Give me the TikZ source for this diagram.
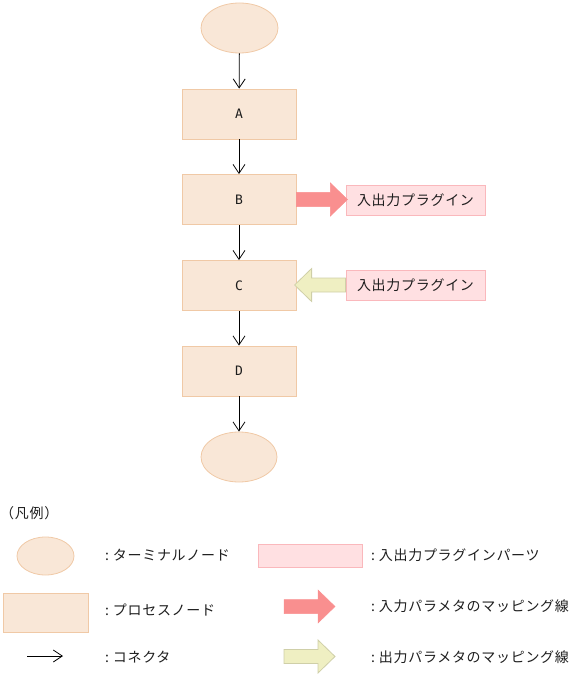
\documentclass[tikz,border=0pt]{standalone}
\usepackage{fontspec}
\setmainfont[LetterSpace=5]{Noto Sans CJK JP}
\newfontfamily\letterfont{DejaVu Sans Mono}
\usetikzlibrary{arrows.meta,shapes.geometric,calc}
\definecolor{peachfill}{HTML}{F9E7D7}
\definecolor{peachdraw}{HTML}{F0C9A6}
\definecolor{pinkfill}{HTML}{FFE0E2}
\definecolor{pinkdraw}{HTML}{FAB8BC}
\definecolor{redarr}{HTML}{F98F8F}
\definecolor{yelfill}{HTML}{EFEFC2}
\definecolor{yeldraw}{HTML}{CFCFA8}
\definecolor{txt}{HTML}{1E1E1E}
\tikzset{
  jp/.style={font=\fontsize{14}{16}\selectfont, text=txt, inner sep=0pt},
  terminal/.style={ellipse, draw=peachdraw, fill=peachfill, line width=0.8pt, inner sep=0pt},
  process/.style={rectangle, draw=peachdraw, fill=peachfill, line width=0.8pt, minimum width=114pt, minimum height=50pt, inner sep=0pt, font=\letterfont\fontsize{13}{15}\selectfont, text=txt},
  plugin/.style={rectangle, draw=pinkdraw, fill=pinkfill, line width=0.8pt, minimum width=139pt, minimum height=30pt, inner sep=0pt, font=\fontsize{14}{16}\selectfont, text=txt},
  conn/.style={draw=black, line width=0.8pt, -{Straight Barb[length=9pt,width=12pt,line width=0.8pt]}},
  redarrow/.style={fill=redarr, draw=redarr, line width=0.5pt},
  yelarrow/.style={fill=yelfill, draw=yeldraw, line width=0.8pt},
  fatarrow/.pic={\path[pic actions] (0,-7) -- (34,-7) -- (34,-16.5) -- (51,0) -- (34,16.5) -- (34,7) -- (0,7) -- cycle;}
}
\begin{document}
\begin{tikzpicture}[x=1pt,y=-1pt]
\useasboundingbox (0,0) rectangle (568,676);
% main flow
\node[terminal, minimum width=77pt, minimum height=50pt] (start) at (239.5,28) {};
\node[process] (A) at (239,114) {A};
\node[process] (B) at (239,199.5) {B};
\node[process] (C) at (239,285.5) {C};
\node[process] (D) at (239,371) {D};
\node[terminal, minimum width=76pt, minimum height=50pt] (end) at (239,457) {};
\draw[conn] (start) -- (A);
\draw[conn] (A) -- (B);
\draw[conn] (B) -- (C);
\draw[conn] (C) -- (D);
\draw[conn] (D) -- (end);
% plugins
\node[plugin] (p1) at (415.5,200) {入出力プラグイン};
\node[plugin] (p2) at (415.5,285) {入出力プラグイン};
\pic[redarrow] at (B.east) {fatarrow};
\pic[yelarrow, xscale=-1] at (p2.west) {fatarrow};
% legend
\node[jp, anchor=west] (legtitle) at (0,513) {（凡例）};
\node[terminal, minimum width=57pt, minimum height=38pt] (lterm) at (45.5,556) {};
\node[jp, anchor=west] (lterm t) at (105,555) {:\ ターミナルノード};
\node[process, minimum width=85pt, minimum height=39pt] (lproc) at (45.5,612.5) {};
\node[jp, anchor=west] (lproc t) at (105,610) {:\ プロセスノード};
\coordinate (lc1) at (27,656);
\coordinate (lc2) at (63,656);
\draw[conn] (lc1) -- (lc2);
\node[jp, anchor=west] (lconn t) at (105,657) {:\ コネクタ};
\node[rectangle, draw=pinkdraw, fill=pinkfill, line width=0.8pt, minimum width=104pt, minimum height=23pt, inner sep=0pt] (lplug) at (310,555.5) {};
\node[jp, anchor=west] (lplug t) at (371,555) {:\ 入出力プラグインパーツ};
\coordinate (lra) at (284,606.5);
\pic[redarrow] at (lra) {fatarrow};
\node[jp, anchor=west] (lra t) at (371,606) {:\ 入力パラメタのマッピング線};
\coordinate (lya) at (284,656.5);
\pic[yelarrow] at (lya) {fatarrow};
\node[jp, anchor=west] (lya t) at (371,657) {:\ 出力パラメタのマッピング線};
\end{tikzpicture}
\end{document}
